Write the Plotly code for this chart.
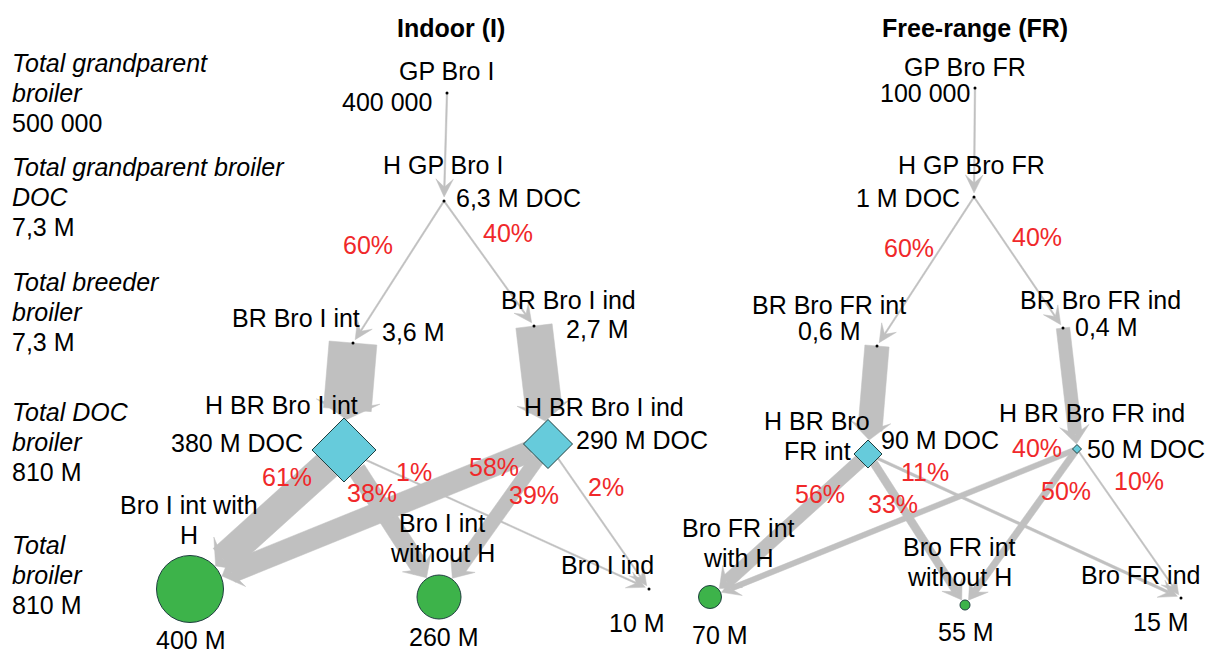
import numpy as np
import plotly.graph_objects as go

# ---------------- data ----------------
panel_titles = ["Indoor (I)", "Free-range (FR)"]

row_titles = ["Total grandparent\nbroiler", "Total grandparent broiler\nDOC",
              "Total breeder\nbroiler", "Total DOC\nbroiler", "Total\nbroiler"]
row_totals = ["500 000", "7,3 M", "7,3 M", "810 M", "810 M"]

node_ids = ["GP_I", "HGP_I", "BRint_I", "BRind_I", "HBRint_I", "HBRind_I",
            "BroW_I", "BroWO_I", "BroInd_I",
            "GP_FR", "HGP_FR", "BRint_FR", "BRind_FR", "HBRint_FR", "HBRind_FR",
            "BroW_FR", "BroWO_FR", "BroInd_FR"]
node_names = ["GP Bro I", "H GP Bro I", "BR Bro I int", "BR Bro I ind",
              "H BR Bro I int", "H BR Bro I ind", "Bro I int with\nH",
              "Bro I int\nwithout H", "Bro I ind",
              "GP Bro FR", "H GP Bro FR", "BR Bro FR int", "BR Bro FR ind",
              "H BR Bro\nFR int", "H BR Bro FR ind", "Bro FR int\nwith H",
              "Bro FR int\nwithout H", "Bro FR ind"]
node_value_labels = ["400 000", "6,3 M DOC", "3,6 M", "2,7 M", "380 M DOC",
                     "290 M DOC", "400 M", "260 M", "10 M",
                     "100 000", "1 M DOC", "0,6 M", "0,4 M", "90 M DOC",
                     "50 M DOC", "70 M", "55 M", "15 M"]
node_values_m = [0.4, 6.3, 3.6, 2.7, 380, 290, 400, 260, 10,
                 0.1, 1.0, 0.6, 0.4, 90, 50, 70, 55, 15]
node_kinds = ["dot", "dot", "dot", "dot", "diamond", "diamond", "circle", "circle", "dot",
              "dot", "dot", "dot", "dot", "diamond", "diamond", "circle", "circle", "dot"]
node_panel = [0] * 9 + [1] * 9

edge_sources = ["GP_I", "HGP_I", "HGP_I", "BRint_I", "BRind_I",
                "HBRint_I", "HBRint_I", "HBRint_I", "HBRind_I", "HBRind_I", "HBRind_I",
                "GP_FR", "HGP_FR", "HGP_FR", "BRint_FR", "BRind_FR",
                "HBRint_FR", "HBRint_FR", "HBRint_FR", "HBRind_FR", "HBRind_FR", "HBRind_FR"]
edge_targets = ["HGP_I", "BRint_I", "BRind_I", "HBRint_I", "HBRind_I",
                "BroW_I", "BroWO_I", "BroInd_I", "BroW_I", "BroWO_I", "BroInd_I",
                "HGP_FR", "BRint_FR", "BRind_FR", "HBRint_FR", "HBRind_FR",
                "BroW_FR", "BroWO_FR", "BroInd_FR", "BroW_FR", "BroWO_FR", "BroInd_FR"]
edge_shares = [None, 60, 40, None, None, 61, 38, 1, 58, 39, 2,
               None, 60, 40, None, None, 56, 33, 11, 40, 50, 10]

# ---------------- layout / style (pixel space, y down) ----------------
W, H = 1217, 653
node_xy = {
    "GP_I": (447, 93), "HGP_I": (444, 201), "BRint_I": (353, 343), "BRind_I": (534, 326),
    "HBRint_I": (344, 450), "HBRind_I": (548, 444), "BroW_I": (190, 589),
    "BroWO_I": (439, 597), "BroInd_I": (649, 589),
    "GP_FR": (975, 88), "HGP_FR": (974, 197), "BRint_FR": (877, 346), "BRind_FR": (1063, 328),
    "HBRint_FR": (868, 454), "HBRind_FR": (1077, 449), "BroW_FR": (710, 597),
    "BroWO_FR": (965, 605), "BroInd_FR": (1181, 598),
}
name_xy = {
    "GP_I": (446, 71), "HGP_I": (443, 165), "BRint_I": (296, 318), "BRind_I": (568, 300),
    "HBRint_I": (281, 405), "HBRind_I": (604, 407), "BroW_I": (189, 505),
    "BroWO_I": (442, 523), "BroInd_I": (607, 565),
    "GP_FR": (965, 67), "HGP_FR": (971, 165), "BRint_FR": (829, 305), "BRind_FR": (1100, 300),
    "HBRint_FR": (817, 421), "HBRind_FR": (1092, 413), "BroW_FR": (738, 528),
    "BroWO_FR": (959, 547), "BroInd_FR": (1140, 575),
}
value_xy = {
    "GP_I": (387, 102), "HGP_I": (518, 198), "BRint_I": (413, 332), "BRind_I": (597, 329),
    "HBRint_I": (237, 443), "HBRind_I": (642, 440), "BroW_I": (190, 640),
    "BroWO_I": (443, 637), "BroInd_I": (637, 623),
    "GP_FR": (925, 93), "HGP_FR": (908, 198), "BRint_FR": (829, 331), "BRind_FR": (1106, 327),
    "HBRint_FR": (940, 440), "HBRind_FR": (1146, 449), "BroW_FR": (720, 635),
    "BroWO_FR": (966, 632), "BroInd_FR": (1161, 622),
}
# diamonds: half-diagonal (px); circles: diameter (px)
node_px = {"HBRint_I": 32, "HBRind_I": 24.5, "HBRint_FR": 14, "HBRind_FR": 4.5,
           "BroW_I": 67, "BroWO_I": 44, "BroW_FR": 23, "BroWO_FR": 10}
share_xy = [None, (368, 245), (508, 233), None, None,
            (287, 477), (372, 493), (414, 472), (494, 467), (534, 495), (606, 487),
            None, (909, 248), (1037, 237), None, None,
            (820, 494), (893, 504), (925, 472), (1037, 448), (1066, 491), (1139, 481)]
panel_title_xy = [(451, 28), (975, 28)]
row_title_y = [63, 167, 282, 412, 545]
width_scale = [0.126, 0.27]   # px per million birds, per panel
MIN_W = 1.5
EDGE_COL = "#c0c0c0"
RED = "#f0282a"
FONT = "Liberation Sans, Arial, sans-serif"
FS = 25
LINE_H = 30

idx = {n: i for i, n in enumerate(node_ids)}


def boundary(nid, u):
    k = node_kinds[idx[nid]]
    if k == "diamond":
        return node_px[nid] / (abs(u[0]) + abs(u[1]))
    if k == "circle":
        return node_px[nid] / 2.0
    return 0.0


fig = go.Figure()

# ---- edges as filled polygons ----
for s, t, sh in zip(edge_sources, edge_targets, edge_shares):
    i_s, i_t = idx[s], idx[t]
    if sh is None:
        flow = node_values_m[i_t] if node_kinds[i_t] == "diamond" else node_values_m[i_s]
    else:
        flow = node_values_m[i_s] * sh / 100.0
    w = max(MIN_W, width_scale[node_panel[i_s]] * flow)
    p0 = np.array(node_xy[s], float)
    p1 = np.array(node_xy[t], float)
    d = p1 - p0
    u = d / np.linalg.norm(d)
    n = np.array([-u[1], u[0]])
    start = p0 + u * boundary(s, u)
    gap = boundary(t, u) + (4 if node_kinds[i_t] == "dot" else 1)
    tip = p1 - u * gap
    L = 18.0
    hw = w / 2 + 8
    bend = tip - u * L * 0.55
    band = [start + n * w / 2, bend + n * w / 2, bend - n * w / 2, start - n * w / 2, start + n * w / 2]
    head = [tip, tip - u * L + n * hw, tip - u * L * 0.55, tip - u * L - n * hw, tip]
    for poly in (band, head):
        fig.add_trace(go.Scatter(
            x=[q[0] for q in poly], y=[q[1] for q in poly], mode="lines",
            fill="toself", fillcolor=EDGE_COL, line=dict(color=EDGE_COL, width=0.5),
            hoverinfo="skip", showlegend=False))

# ---- nodes ----
for kind, sym, col in (("diamond", "diamond", "#66cbdb"), ("circle", "circle", "#3db34a")):
    ids = [nid for nid in node_ids if node_kinds[idx[nid]] == kind]
    sizes = [node_px[nid] / 0.65 if kind == "diamond" else node_px[nid] for nid in ids]
    fig.add_trace(go.Scatter(
        x=[node_xy[nid][0] for nid in ids], y=[node_xy[nid][1] for nid in ids],
        mode="markers", marker=dict(symbol=sym, size=sizes, color=col, opacity=1,
                                    line=dict(color="#1f3f3f", width=1)),
        hoverinfo="skip", showlegend=False))
dots = [nid for nid in node_ids if node_kinds[idx[nid]] == "dot"]
fig.add_trace(go.Scatter(
    x=[node_xy[nid][0] for nid in dots], y=[node_xy[nid][1] for nid in dots],
    mode="markers", marker=dict(size=3, color="black", opacity=1),
    hoverinfo="skip", showlegend=False))

# ---- text ----
ann = []


def add_text(text, x, y, color="black", anchor="center", italic_lines=0, bold=False):
    for k, line in enumerate(text.split("\n")):
        t = line
        if k < italic_lines:
            t = "<i>" + t + "</i>"
        if bold:
            t = "<b>" + t + "</b>"
        ann.append(dict(x=x, y=y + k * LINE_H, xref="x", yref="y", text=t, showarrow=False,
                        xanchor=anchor, yanchor="middle",
                        font=dict(family=FONT, size=FS, color=color)))


for title, (x, y) in zip(panel_titles, panel_title_xy):
    add_text(title, x, y, bold=True)
for title, total, y in zip(row_titles, row_totals, row_title_y):
    lines = title + "\n" + total
    add_text(lines, 10, y, anchor="left", italic_lines=len(title.split("\n")))
for nid, name, val in zip(node_ids, node_names, node_value_labels):
    add_text(name, *name_xy[nid])
    add_text(val, *value_xy[nid])
for sh, pos in zip(edge_shares, share_xy):
    if sh is not None:
        add_text(f"{sh}%", pos[0], pos[1], color=RED)

fig.update_layout(
    width=W, height=H, margin=dict(l=0, r=0, t=0, b=0),
    paper_bgcolor="white", plot_bgcolor="white",
    xaxis=dict(range=[0, W], visible=False, fixedrange=True),
    yaxis=dict(range=[H, 0], visible=False, fixedrange=True),
    annotations=ann,
)
fig.write_html("out.html", config={"displayModeBar": False},
               post_script="document.body.style.margin='0px';"
                           "document.body.style.overflow='hidden';")
